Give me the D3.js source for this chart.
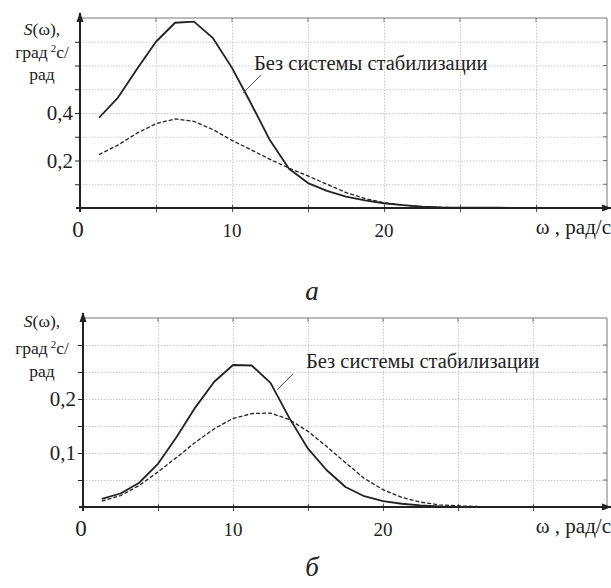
<!DOCTYPE html>
<html>
<head>
<meta charset="UTF-8">
<script src="https://cdn.jsdelivr.net/npm/d3@7"></script>
<style>
  body { margin: 0; background: #fff; }
  svg { display: block; }
  .grid line { stroke: #c8c8c8; stroke-dasharray: 1.5,1.5; }
  .grid path { display: none; }
</style>
</head>
<body>
<script>
// frequency points, rad/s
const omega = [1.25, 2.5, 3.75, 5, 6.25, 7.5, 8.75, 10, 11.25, 12.5, 13.75, 15,
               16.25, 17.5, 18.75, 20, 21.25, 22.5, 23.75, 25, 26.25, 27.5, 28.75, 30];

// panel a
const aNoStab = [0.38, 0.465, 0.585, 0.70, 0.78, 0.785, 0.715, 0.59, 0.44, 0.285, 0.165, 0.105,
                 0.072, 0.048, 0.032, 0.02, 0.012, 0.006, 0.003, 0.002, 0.001, 0.001, 0, 0];
const aStab   = [0.225, 0.265, 0.315, 0.355, 0.375, 0.365, 0.33, 0.285, 0.245, 0.205, 0.168, 0.135,
                 0.1, 0.065, 0.04, 0.022, 0.012, 0.006, 0.003, 0.001, 0.001, 0, 0, 0];

// panel б
const bNoStab = [0.015, 0.025, 0.045, 0.08, 0.13, 0.185, 0.232, 0.263, 0.262, 0.23, 0.165, 0.108,
                 0.068, 0.037, 0.02, 0.011, 0.006, 0.003, 0.001, 0, 0, 0, 0, 0];
const bStab   = [0.011, 0.021, 0.04, 0.065, 0.092, 0.12, 0.145, 0.164, 0.173, 0.174, 0.162, 0.14,
                 0.112, 0.082, 0.053, 0.032, 0.018, 0.009, 0.004, 0.002, 0.001, 0, 0, 0];

const xTicks = [0, 10, 20];
const xGrid = [5, 10, 15, 20, 25, 30];
const annotation = "Без системы стабилизации";
const xTitle = "ω , рад/с";

const FONT = "Liberation Serif";
const W = 611, H = 588;
const svg = d3.select("body").append("svg").attr("width", W).attr("height", H);

svg.append("defs").append("marker")
  .attr("id", "arrow").attr("viewBox", "0 0 10 10")
  .attr("refX", 9).attr("refY", 5)
  .attr("markerWidth", 10).attr("markerHeight", 10)
  .attr("markerUnits", "userSpaceOnUse")
  .attr("orient", "auto")
  .append("path").attr("d", "M0,1.5 L10,5 L0,8.5 Z").attr("fill", "#222");

const fmt = d => d3.format(".1f")(d).replace(".", ",");

// text helper: serif text with given size
function label(sel, size) {
  return sel.style("font-family", FONT).style("font-size", size + "px").attr("fill", "#222");
}

function drawPanel(cfg) {
  const g = svg.append("g");
  const x = d3.scaleLinear().domain([0, 35]).range([cfg.left, cfg.right]);
  const y = d3.scaleLinear().domain([0, cfg.yMax]).range([cfg.bottom, cfg.top]);

  // grid
  g.append("g").attr("class", "grid")
    .attr("transform", `translate(0,${cfg.bottom})`)
    .call(d3.axisBottom(x).tickValues(xGrid).tickSize(-(cfg.bottom - cfg.top)).tickFormat(""));
  g.append("g").attr("class", "grid")
    .attr("transform", `translate(${cfg.left},0)`)
    .call(d3.axisLeft(y).tickValues(cfg.yGrid).tickSize(-(cfg.frame - cfg.left)).tickFormat(""));

  // frame top and right
  g.append("path")
    .attr("d", `M${cfg.left},${cfg.top} H${cfg.frame} V${cfg.bottom}`)
    .attr("fill", "none").attr("stroke", "#777").attr("stroke-width", 1);
  g.selectAll(".rtick").data(cfg.yGrid).join("line")
    .attr("x1", cfg.frame - 4).attr("x2", cfg.frame)
    .attr("y1", d => y(d)).attr("y2", d => y(d))
    .attr("stroke", "#777");
  g.selectAll(".ttick").data(xGrid).join("line")
    .attr("x1", d => x(d)).attr("x2", d => x(d))
    .attr("y1", cfg.top).attr("y2", cfg.top + 4)
    .attr("stroke", "#777");

  // y axis with ticks
  const yAxis = g.append("g").attr("transform", `translate(${cfg.left},0)`)
    .call(d3.axisLeft(y).tickValues(cfg.yGrid).tickSize(5)
      .tickFormat(d => cfg.yLabels.some(v => Math.abs(v - d) < 1e-9) ? fmt(d) : ""));
  yAxis.attr("font-family", null).attr("font-size", null);
  yAxis.select(".domain").remove();
  yAxis.selectAll("line").attr("stroke", "#222");
  label(yAxis.selectAll("text"), 21).attr("dx", 1);

  // x axis ticks
  const xAxis = g.append("g").attr("transform", `translate(0,${cfg.bottom})`)
    .call(d3.axisBottom(x).tickValues(xGrid).tickSize(4).tickFormat(""));
  xAxis.select(".domain").remove();
  xAxis.selectAll("line").attr("stroke", "#555").attr("y1", -3);

  g.selectAll(".xlab").data(xTicks).join("text")
    .attr("x", d => x(d) - (d === 0 ? 2 : 0)).attr("y", cfg.bottom + 29)
    .attr("text-anchor", "middle")
    .style("font-family", FONT)
    .style("font-size", d => (d === 0 ? 23 : 19) + "px").attr("fill", "#222")
    .text(d => d);

  // axis lines with arrows
  g.append("line")
    .attr("x1", cfg.left).attr("x2", cfg.left)
    .attr("y1", cfg.bottom + 4).attr("y2", cfg.top - 5)
    .attr("stroke", "#222").attr("stroke-width", 2).attr("marker-end", "url(#arrow)");
  g.append("line")
    .attr("x1", cfg.left - 4).attr("x2", 611)
    .attr("y1", cfg.bottom).attr("y2", cfg.bottom)
    .attr("stroke", "#222").attr("stroke-width", 2).attr("marker-end", "url(#arrow)");

  label(g.append("text"), 21).attr("x", 611).attr("y", cfg.bottom + 26)
    .attr("text-anchor", "end").text(xTitle);

  // curves
  const line = d3.line().x(d => x(d[0])).y(d => y(d[1]));
  g.append("path").datum(d3.zip(omega, cfg.stab))
    .attr("d", line).attr("fill", "none")
    .attr("stroke", "#222").attr("stroke-width", 1.3).attr("stroke-dasharray", "4,2");
  g.append("path").datum(d3.zip(omega, cfg.noStab))
    .attr("d", line).attr("fill", "none")
    .attr("stroke", "#222").attr("stroke-width", 1.8).attr("stroke-linejoin", "round");

  // annotation
  g.append("line")
    .attr("x1", cfg.lead[0]).attr("y1", cfg.lead[1])
    .attr("x2", cfg.lead[2]).attr("y2", cfg.lead[3])
    .attr("stroke", "#555").attr("stroke-width", 1);
  label(g.append("text"), 20.5).attr("x", cfg.note[0]).attr("y", cfg.note[1]).text(annotation);

  // y title
  const yt = label(g.append("text"), 17.5).attr("text-anchor", "middle");
  const l1 = yt.append("tspan").attr("x", 42).attr("y", cfg.ytitle[0]);
  l1.append("tspan").style("font-style", "italic").text("S");
  l1.append("tspan").text("(ω),");
  const l2 = yt.append("tspan").attr("x", 42).attr("y", cfg.ytitle[1]);
  l2.append("tspan").text("град");
  l2.append("tspan").style("font-size", "11px").attr("dx", 3).attr("dy", -6).text("2");
  l2.append("tspan").attr("dy", 6).text("с/");
  yt.append("tspan").attr("x", 42).attr("y", cfg.ytitle[2]).text("рад");

  // panel letter
  label(g.append("text"), 27).attr("x", 312).attr("y", cfg.letterY)
    .attr("text-anchor", "middle").style("font-style", "italic").text(cfg.letter);
}

drawPanel({
  left: 80, right: 612, top: 18, bottom: 208, frame: 607, yMax: 0.8,
  yGrid: [0.1, 0.2, 0.3, 0.4, 0.5, 0.6, 0.7], yLabels: [0.2, 0.4],
  noStab: aNoStab, stab: aStab,
  lead: [243, 93, 261, 75], note: [254, 70],
  ytitle: [35, 58, 80], letter: "а", letterY: 300
});

drawPanel({
  left: 83, right: 608, top: 318, bottom: 507, frame: 607, yMax: 0.35,
  yGrid: [0.05, 0.1, 0.15, 0.2, 0.25, 0.3], yLabels: [0.1, 0.2],
  noStab: bNoStab, stab: bStab,
  lead: [277, 390, 293, 374], note: [306, 368],
  ytitle: [327, 354, 377], letter: "б", letterY: 576
});
</script>
</body>
</html>
